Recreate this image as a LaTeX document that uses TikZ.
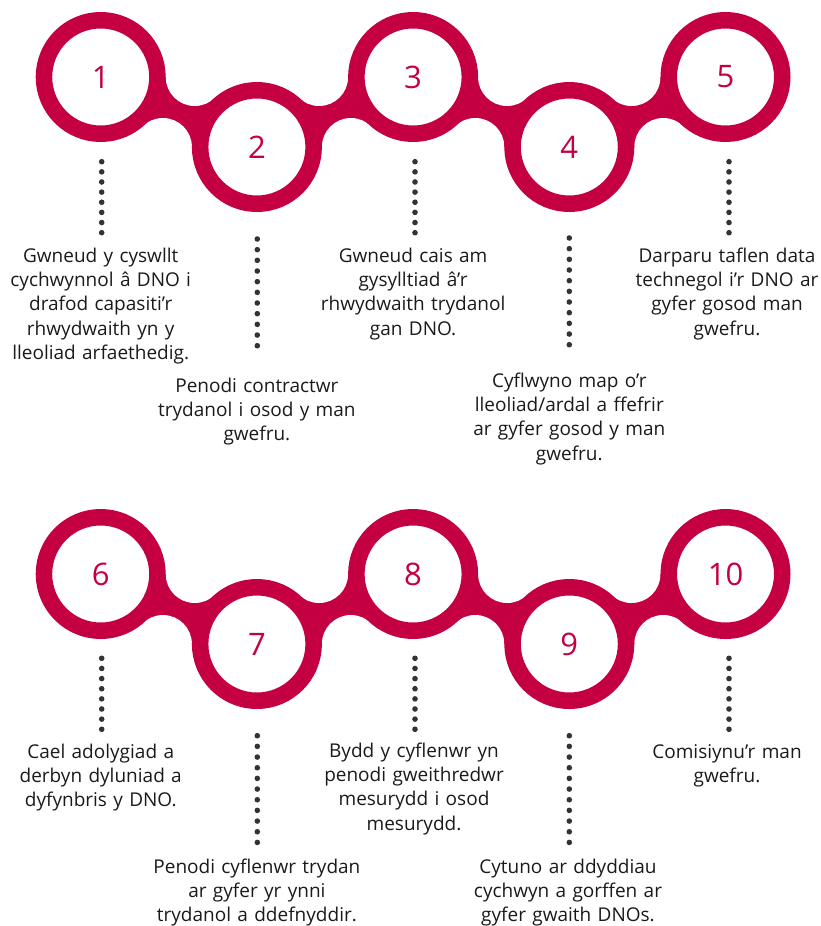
\documentclass[tikz,border=0pt]{standalone}
\usepackage{fontspec}
\setmainfont{Open Sans}
\usetikzlibrary{calc}
\definecolor{ring}{RGB}{196,0,66}
\definecolor{ink}{RGB}{26,26,26}
\definecolor{dotc}{RGB}{51,51,51}
\tikzset{
  stepring/.style={circle, draw=ring, line width=16.5pt, fill=white, minimum size=113.5pt,
    inner sep=0pt, text=ring, font=\fontsize{31}{31}\selectfont},
  steptext/.style={text width=215pt, align=center, anchor=base, inner sep=0pt, text=ink,
    font=\fontsize{19}{24.4}\selectfont},
  dotsshort/.style={draw=dotc, line width=5.6pt, line cap=round, dash pattern=on 0pt off 10.14pt},
  dotslong/.style={draw=dotc, line width=5.6pt, line cap=round, dash pattern=on 0pt off 10.67pt}
}
\begin{document}
\begin{tikzpicture}[x=1pt,y=-1pt]
\useasboundingbox (0,0) rectangle (821,926);
% centres
\coordinate (c1) at (100.7,77);
\coordinate (c2) at (256.9,147);
\coordinate (c3) at (413.1,77);
\coordinate (c4) at (569.3,147);
\coordinate (c5) at (725.5,77);
\coordinate (c6) at (100.7,574);
\coordinate (c7) at (256.9,644);
\coordinate (c8) at (413.1,574);
\coordinate (c9) at (569.3,644);
\coordinate (c10) at (725.5,574);
% bands between rings
\foreach \a/\b in {1/2,2/3,3/4,4/5,6/7,7/8,8/9,9/10}{
  \fill[ring] (c\a) -- ++(94,0) -- (c\b) -- ++(-94,0) -- cycle;
  \fill[white] ($(c\a)+(94,0)$) circle[radius=29pt];
  \fill[white] ($(c\b)+(-94,0)$) circle[radius=29pt];
}
% rings
\foreach \i in {1,...,10}{
  \node[stepring] (n\i) at (c\i) {\i};
}
% dotted connectors
\coordinate (d1s) at (101.7,161.7);  \coordinate (d1e) at (101.7,233.0);
\coordinate (d2s) at (257.3,239.0);  \coordinate (d2e) at (257.3,346.0);
\coordinate (d3s) at (415.0,161.7);  \coordinate (d3e) at (415.0,233.0);
\coordinate (d4s) at (569.3,238.0);  \coordinate (d4e) at (569.3,345.0);
\coordinate (d5s) at (729.0,161.7);  \coordinate (d5e) at (729.0,233.0);
\coordinate (d6s) at (101.7,658.3);  \coordinate (d6e) at (101.7,729.6);
\coordinate (d7s) at (257.3,735.7);  \coordinate (d7e) at (257.3,842.6);
\coordinate (d8s) at (415.0,658.3);  \coordinate (d8e) at (415.0,729.6);
\coordinate (d9s) at (569.3,735.7);  \coordinate (d9e) at (569.3,842.6);
\coordinate (d10s) at (729.0,658.3); \coordinate (d10e) at (729.0,729.6);
\foreach \i in {1,3,5,6,8,10}{ \draw[dotsshort] (d\i s) -- (d\i e); }
\foreach \i in {2,4,7,9}{ \draw[dotslong] (d\i s) -- (d\i e); }
% texts
\node[steptext] (t1) at (100.7,262) {Gwneud y cyswllt\\cychwynnol â DNO i\\drafod capasiti’r\\rhwydwaith yn y\\lleoliad arfaethedig.};
\node[steptext] (t2) at (256.9,392) {Penodi contractwr\\trydanol i osod y man\\gwefru.};
\node[steptext] (t3) at (413.1,262) {Gwneud cais am\\gysylltiad â’r\\rhwydwaith trydanol\\gan DNO.};
\node[steptext] (t4) at (569.3,387) {Cyflwyno map o’r\\lleoliad/ardal a ffefrir\\ar gyfer gosod y man\\gwefru.};
\node[steptext] (t5) at (727.0,262) {Darparu taflen data\\technegol i’r DNO ar\\gyfer gosod man\\gwefru.};
\node[steptext] (t6) at (100.7,758) {Cael adolygiad a\\derbyn dyluniad a\\dyfynbris y DNO.};
\node[steptext] (t7) at (256.9,873) {Penodi cyflenwr trydan\\ar gyfer yr ynni\\trydanol a ddefnyddir.};
\node[steptext] (t8) at (414.0,757) {Bydd y cyflenwr yn\\penodi gweithredwr\\mesurydd i osod\\mesurydd.};
\node[steptext] (t9) at (568.0,873) {Cytuno ar ddyddiau\\cychwyn a gorffen ar\\gyfer gwaith DNOs.};
\node[steptext] (t10) at (727.0,758) {Comisiynu’r man\\gwefru.};
\end{tikzpicture}
\end{document}
